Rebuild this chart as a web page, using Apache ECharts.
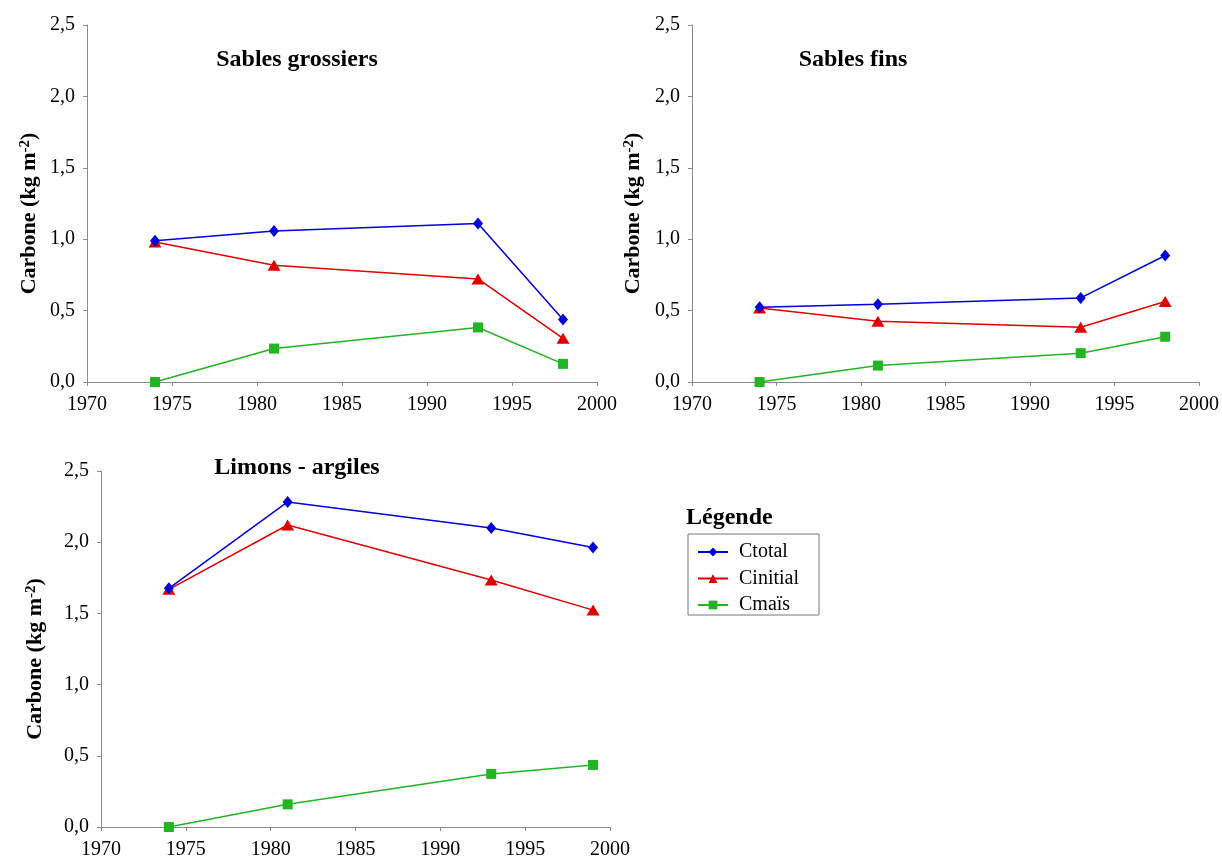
<!DOCTYPE html>
<html>
<head>
<meta charset="utf-8">
<script src="https://cdn.jsdelivr.net/npm/echarts@6/dist/echarts.min.js"></script>
<style>
html,body{margin:0;padding:0;background:#fff;}
#c{width:1222px;height:860px;}
</style>
</head>
<body>
<div id="c"></div>
<script>
// ---- data ----
const panelTitles = ['Sables grossiers', 'Sables fins', 'Limons - argiles'];
const seriesNames = ['Ctotal', 'Cinitial', 'Cmaïs'];

const yearsSG = [1974, 1981, 1993, 1998];
const ctotalSG = [0.99, 1.057, 1.11, 0.437];
const cinitialSG = [0.98, 0.818, 0.722, 0.306];
const cmaisSG = [0.0, 0.234, 0.382, 0.127];

const yearsSF = [1974, 1981, 1993, 1998];
const ctotalSF = [0.523, 0.545, 0.589, 0.886];
const cinitialSF = [0.519, 0.425, 0.383, 0.564];
const cmaisSF = [0.0, 0.115, 0.202, 0.317];

const yearsLA = [1974, 1981, 1993, 1999];
const ctotalLA = [1.676, 2.283, 2.1, 1.962];
const cinitialLA = [1.669, 2.121, 1.735, 1.523];
const cmaisLA = [0.0, 0.159, 0.373, 0.436];

const xTicks = [1970, 1975, 1980, 1985, 1990, 1995, 2000];
const yTicks = [0.0, 0.5, 1.0, 1.5, 2.0, 2.5];

// ---- styling ----
const FONT = '"Liberation Serif", "Times New Roman", serif';
const AXIS_COLOR = '#8a8a8a';
const colors = ['#0000d8', '#e00000', '#22b422'];
const symbols = ['diamond', 'triangle', 'rect'];
const symbolSizes = [[10, 12], [13, 11], [10, 10]];

const grids = [
  {left: 87, top: 25, width: 510, height: 357},
  {left: 692, top: 25, width: 507, height: 357},
  {left: 101, top: 471, width: 509, height: 357}
];
const nameGaps = [47, 48, 55];

function pairs(xs, ys) { return xs.map((x, i) => [x, ys[i]]); }

const panels = [
  [yearsSG, [ctotalSG, cinitialSG, cmaisSG]],
  [yearsSF, [ctotalSF, cinitialSF, cmaisSF]],
  [yearsLA, [ctotalLA, cinitialLA, cmaisLA]]
];

const xAxes = grids.map((g, i) => ({
  type: 'value', gridIndex: i,
  min: xTicks[0], max: xTicks[xTicks.length - 1], interval: 5,
  axisLine: {show: true, lineStyle: {color: AXIS_COLOR, width: 1}},
  axisTick: {show: true, inside: false, length: 4, lineStyle: {color: AXIS_COLOR}},
  splitLine: {show: false},
  axisLabel: {color: '#000', fontFamily: FONT, fontSize: 20, margin: 13,
    formatter: v => String(v)}
}));

const yAxes = grids.map((g, i) => ({
  type: 'value', gridIndex: i,
  min: yTicks[0], max: yTicks[yTicks.length - 1], interval: 0.5,
  axisLine: {show: true, lineStyle: {color: AXIS_COLOR, width: 1}},
  axisTick: {show: true, inside: false, length: 4, lineStyle: {color: AXIS_COLOR}},
  splitLine: {show: false},
  axisLabel: {color: '#000', fontFamily: FONT, fontSize: 20, margin: 12,
    formatter: v => v.toFixed(1).replace('.', ',')},
  name: 'Carbone (kg m{sup|-2})',
  nameLocation: 'middle',
  nameRotate: 90,
  nameGap: nameGaps[i],
  nameTextStyle: {
    color: '#000', fontFamily: FONT, fontSize: 22, fontWeight: 'bold',
    padding: [0, 20, 0, 0],
    rich: {sup: {fontFamily: FONT, fontSize: 15, fontWeight: 'bold', color: '#000', verticalAlign: 'top'}}
  }
}));

const series = [];
panels.forEach((p, gi) => {
  const xs = p[0];
  p[1].forEach((ys, si) => {
    series.push({
      type: 'line', name: seriesNames[si],
      xAxisIndex: gi, yAxisIndex: gi,
      data: pairs(xs, ys),
      symbol: symbols[si], symbolSize: symbolSizes[si],
      showAllSymbol: true,
      lineStyle: {color: colors[si], width: 1.5},
      itemStyle: {color: colors[si]},
      z: 3 - si,
      animation: false
    });
  });
});

const titleCenters = [[297, 48], [853, 48], [297, 456]];
const titles = panelTitles.map((t, i) => ({
  text: t, left: titleCenters[i][0], top: titleCenters[i][1], textAlign: 'center',
  padding: 0,
  textStyle: {fontFamily: FONT, fontSize: 24, fontWeight: 'bold', color: '#000'}
}));
titles.push({
  text: 'Légende', left: 686, top: 506, padding: 0,
  textStyle: {fontFamily: FONT, fontSize: 24, fontWeight: 'bold', color: '#000'}
});

const option = {
  backgroundColor: '#fff',
  animation: false,
  title: titles,
  grid: grids,
  xAxis: xAxes,
  yAxis: yAxes,
  legend: {
    data: seriesNames,
    orient: 'vertical',
    left: 688, top: 534,
    padding: [8, 20, 0, 9],
    itemGap: 6.5,
    itemWidth: 30, itemHeight: 11,
    borderColor: '#777', borderWidth: 1,
    selectedMode: false,
    textStyle: {fontFamily: FONT, fontSize: 20, color: '#000', lineHeight: 18, padding: [0, 0, 0, 6]}
  },
  series: series
};

const chart = echarts.init(document.getElementById('c'), null, {renderer: 'canvas'});
chart.setOption(option);
</script>
</body>
</html>
